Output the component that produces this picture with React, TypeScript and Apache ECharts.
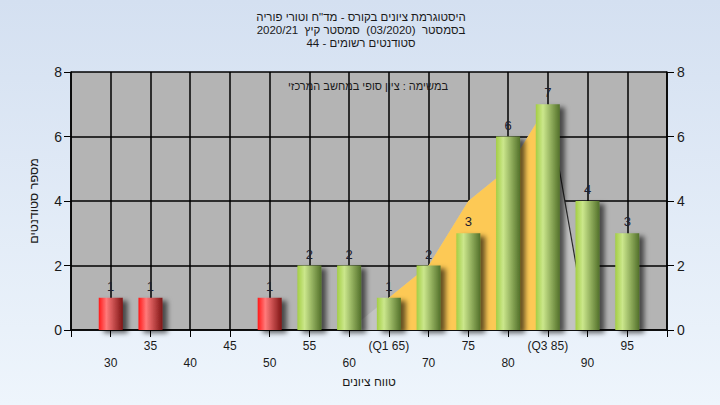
import React, { useEffect, useRef } from "react";
import * as echarts from "echarts";

const titleLines = [
  "היסטוגרמת ציונים בקורס - מד\"ח וטורי פוריה",
  "בסמסטר  (03/2020)  סמסטר קיץ  2020/21",
  "סטודנטים רשומים - 44",
];
const subTitle = "במשימה : ציון סופי במחשב המרכזי";
const yAxisName = "מספר סטודנטים";
const xAxisName = "טווח ציונים";

const scores = [30, 35, 40, 45, 50, 55, 60, 65, 70, 75, 80, 85, 90, 95];
const counts = [1, 1, 0, 0, 1, 2, 2, 1, 2, 3, 6, 7, 4, 3];
const tickLabels = ["30", "35", "40", "45", "50", "55", "60", "(Q1 65)", "70", "75", "80", "(Q3 85)", "90", "95"];
const passMark = 55;

const curveX = [60, 65, 70, 75, 80, 85, 90];
const curveY = [0, 1, 2, 4, 5, 7, 0];
const iqrX = [65, 70, 75, 80, 85];
const iqrY = [1, 2, 4, 5, 7];
const edgeX = [85, 90];
const edgeY = [7, 0];

const FONT = "'Liberation Sans', Arial, sans-serif";

export default function App() {
  const ref = useRef<HTMLDivElement>(null);
  useEffect(() => {
    if (!ref.current) return;
    const chart = echarts.init(ref.current, undefined, { renderer: "svg" });
    const red = new echarts.graphic.LinearGradient(0, 0, 1, 0, [
      { offset: 0, color: "#ff1616" },
      { offset: 0.32, color: "#ff7a7a" },
      { offset: 1, color: "#7e1414" },
    ]);
    const green = new echarts.graphic.LinearGradient(0, 0, 1, 0, [
      { offset: 0, color: "#a4ce44" },
      { offset: 0.3, color: "#cbe78c" },
      { offset: 1, color: "#52702a" },
    ]);
    const barData = scores.map((s, i) => ({
      value: [s, counts[i]],
      itemStyle: { color: s < passMark ? red : green },
    }));
    const titleY = [17, 30, 43];
    chart.setOption({
      animation: false,
      textStyle: { fontFamily: FONT },
      graphic: [
        ...titleLines.map((t, i) => ({
          type: "text",
          x: 361,
          y: titleY[i],
          silent: true,
          style: {
            text: t,
            fontSize: 11.5,
            fontFamily: FONT,
            fill: "#1a1a1a",
            textAlign: "center",
            textVerticalAlign: "middle",
          },
        })),
        {
          type: "text",
          x: 368,
          y: 86,
          silent: true,
          z: 10,
          style: {
            text: subTitle,
            fontSize: 11,
            fontFamily: FONT,
            fill: "#1a1a1a",
            textAlign: "center",
            textVerticalAlign: "middle",
          },
        },
      ],
      grid: {
        left: 71,
        right: 53,
        top: 72,
        bottom: 75,
        show: true,
        backgroundColor: "#b4b4b4",
        borderWidth: 0,
      },
      xAxis: {
        type: "value",
        min: 25,
        max: 100,
        interval: 5,
        name: xAxisName,
        nameLocation: "middle",
        nameGap: 45,
        nameTextStyle: { fontSize: 12, color: "#1a1a1a", fontFamily: FONT },
        axisLine: { lineStyle: { color: "#000", width: 1.5 } },
        axisTick: { show: true, length: 7, lineStyle: { color: "#000", width: 1 } },
        splitLine: { show: true, lineStyle: { color: "#000", width: 1.5 } },
        axisLabel: {
          fontSize: 12,
          color: "#1a1a1a",
          margin: 7,
          lineHeight: 17,
          fontFamily: FONT,
          formatter: (v: number) => {
            const i = scores.indexOf(v);
            if (i < 0) return "";
            return i % 2 === 0 ? "\n" + tickLabels[i] : tickLabels[i];
          },
        },
      },
      yAxis: [
        {
          type: "value",
          min: 0,
          max: 8,
          interval: 2,
          name: yAxisName,
          nameLocation: "middle",
          nameGap: 31,
          nameRotate: 90,
          nameTextStyle: { fontSize: 12.5, color: "#1a1a1a", fontFamily: FONT },
          axisLine: { show: true, lineStyle: { color: "#000", width: 1.5 } },
          axisTick: { show: true, length: 7, lineStyle: { color: "#000", width: 1 } },
          splitLine: { show: true, lineStyle: { color: "#000", width: 1.5 } },
          axisLabel: { fontSize: 14, color: "#1a1a1a", margin: 9, fontFamily: FONT },
        },
        {
          type: "value",
          min: 0,
          max: 8,
          interval: 2,
          position: "right",
          axisLine: { show: true, lineStyle: { color: "#000", width: 1.5 } },
          axisTick: { show: true, length: 7, lineStyle: { color: "#000", width: 1 } },
          splitLine: { show: false },
          axisLabel: { fontSize: 14, color: "#1a1a1a", margin: 10, fontFamily: FONT },
        },
      ],
      series: [
        {
          type: "line",
          z: 1,
          data: curveX.map((x, i) => [x, curveY[i]]),
          showSymbol: false,
          symbol: "none",
          lineStyle: { width: 0 },
          areaStyle: { color: "#c3c3c3", opacity: 1 },
        },
        {
          type: "line",
          z: 1,
          data: iqrX.map((x, i) => [x, iqrY[i]]),
          showSymbol: false,
          symbol: "none",
          lineStyle: { width: 0 },
          areaStyle: { color: "#fdc955", opacity: 1 },
        },
        {
          type: "line",
          z: 1,
          data: edgeX.map((x, i) => [x, edgeY[i]]),
          showSymbol: false,
          symbol: "none",
          lineStyle: { width: 1.2, color: "#2a2a2a" },
        },
        {
          type: "bar",
          z: 3,
          barWidth: 24,
          data: barData,
          itemStyle: {
            shadowColor: "rgba(0,0,0,0.6)",
            shadowBlur: 5,
            shadowOffsetX: 5,
            shadowOffsetY: 3,
          },
          label: {
            show: true,
            position: "top",
            distance: 5,
            fontSize: 13,
            color: "#1c2030",
            fontFamily: FONT,
            formatter: (p: any) => (p.value[1] > 0 ? String(p.value[1]) : ""),
          },
        },
      ],
    });
    return () => chart.dispose();
  }, []);
  return (
    <div
      style={{
        position: "fixed",
        left: 0,
        top: 0,
        width: 720,
        height: 405,
        background: "linear-gradient(to bottom, #d4e0f1, #eef5fc)",
      }}
    >
      <div ref={ref} style={{ width: 720, height: 405 }} />
    </div>
  );
}
